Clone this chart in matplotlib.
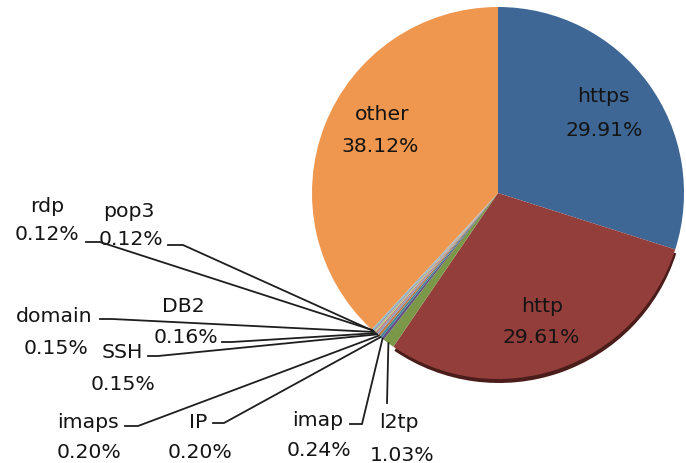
import matplotlib
matplotlib.use('Agg')
import numpy as np
import matplotlib.pyplot as plt
from matplotlib.patches import Wedge

# ---- data ----
labels = ['https', 'http', 'l2tp', 'imap', 'IP', 'imaps', 'SSH', 'DB2',
          'domain', 'pop3', 'rdp', 'other']
values = [29.91, 29.61, 1.03, 0.24, 0.20, 0.20, 0.15, 0.16,
          0.15, 0.12, 0.12, 38.12]
colors = ['#3E6795', '#943E3B', '#7A9848', '#654F82', '#3B8AA0', '#C4773A',
          '#7F9CC9', '#C9807E', '#AFC97F', '#9B87B8', '#7BBFD3', '#F0974F']

# ---- layout (pixel coords, y from top) ----
W, H = 686, 464
CX, CY, R = 498, 194, 186
# inside labels: name (x, baseline), pct (x, baseline)
inside = {
    'https': ((603, 102), (604, 136)),
    'http': ((542, 312), (541, 343)),
    'other': ((382, 120), (380, 152)),
}
# outside labels: name pos, pct pos, leader start, leader knee
outside = {
    'rdp':    ((47, 212), (47, 240), (86, 243), (100, 243)),
    'pop3':   ((129, 217), (131, 245), (168, 246), (183, 246)),
    'domain': ((54, 322), (56, 354), (100, 320), (112, 320)),
    'DB2':    ((183, 312), (186, 343), (222, 343), (232, 343)),
    'SSH':    ((122, 358), (123, 390), (148, 357), (158, 357)),
    'imaps':  ((88, 428), (89, 458), (125, 427), (138, 427)),
    'IP':     ((198, 428), (200, 458), (213, 424), (224, 424)),
    'imap':   ((318, 426), (319, 456), (350, 425), (362, 425)),
    'l2tp':   ((399, 428), (402, 461), (387, 404), (387, 404)),
}

def Y(y):
    return H - y

fig = plt.figure(figsize=(W / 100, H / 100), dpi=100)
ax = fig.add_axes([0, 0, 1, 1])

wedges, _ = ax.pie(values, colors=colors, startangle=90, counterclock=False,
                   center=(CX, Y(CY)), radius=R,
                   wedgeprops=dict(linewidth=0), frame=True)
ax.set_xlim(0, W)
ax.set_ylim(0, H)
ax.set_aspect('auto')
ax.axis('off')

# bottom shadow under the http slice
w_http = wedges[labels.index('http')]
sh = Wedge((CX + 1, Y(CY) - 4), R, w_http.theta1, w_http.theta2,
           facecolor='#4a1d1b', edgecolor='none', zorder=0.5)
ax.add_patch(sh)

FS = 14.7
TC = '#141414'

for lab, v in zip(labels, values):
    pct = f"{v:.2f}%"
    if lab in inside:
        (nx, ny), (px, py) = inside[lab]
        ax.text(nx, Y(ny), lab, ha='center', va='baseline', fontsize=FS, color=TC)
        ax.text(px, Y(py), pct, ha='center', va='baseline', fontsize=FS, color=TC)
    else:
        (nx, ny), (px, py), (sx, sy), (kx, ky) = outside[lab]
        ax.text(nx, Y(ny), lab, ha='center', va='baseline', fontsize=FS, color=TC)
        ax.text(px, Y(py), pct, ha='center', va='baseline', fontsize=FS, color=TC)
        w = wedges[labels.index(lab)]
        th = np.deg2rad((w.theta1 + w.theta2) / 2)
        ex = CX + R * np.cos(th)
        ey = Y(CY) + R * np.sin(th)
        ax.plot([sx, kx, ex], [Y(sy), Y(ky), ey], color='#1e1e1e', lw=1.3,
                solid_joinstyle='miter', zorder=3)

fig.savefig('out.png', dpi=100)
